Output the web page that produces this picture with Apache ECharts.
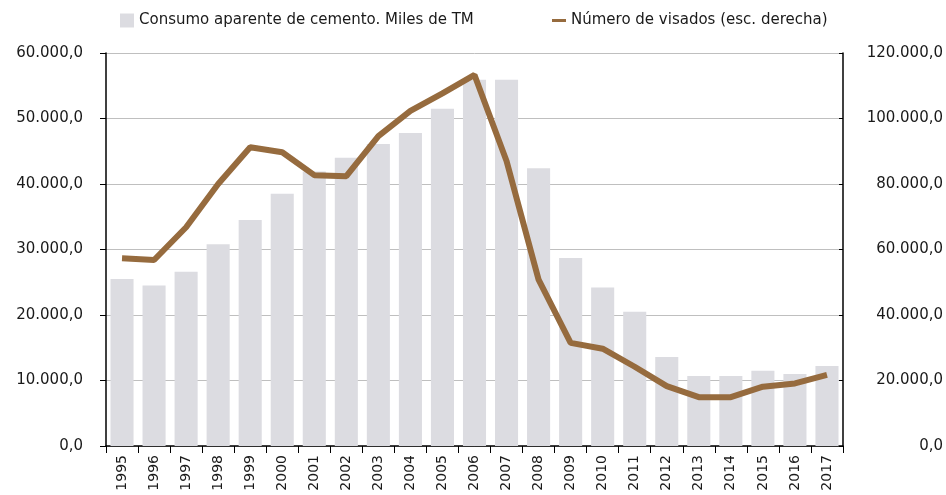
<!DOCTYPE html>
<html>
<head>
<meta charset="utf-8">
<script src="https://cdn.jsdelivr.net/npm/echarts@6/dist/echarts.min.js"></script>
<style>
  html, body { margin: 0; padding: 0; background: #fff; }
  #chart { width: 946px; height: 495px; }
</style>
</head>
<body>
<div id="chart"></div>
<script>
var years = ['1995', '1996', '1997', '1998', '1999', '2000', '2001', '2002', '2003', '2004', '2005', '2006',
    '2007', '2008', '2009', '2010', '2011', '2012', '2013', '2014', '2015', '2016', '2017'];
// consumo aparente de cemento, miles de TM (eje izq.)
var cemento = [25500, 24500, 26600, 30800, 34500, 38500, 41900, 44000, 46100, 47800, 51500, 55900,
    55900, 42400, 28700, 24200, 20500, 13600, 10700, 10700, 11500, 11000, 12200];
// numero de visados (eje dcho.)
var visados = [57300, 56800, 66800, 80000, 91200, 89700, 82700, 82400, 94600, 102300, 107700, 113300,
    87000, 50800, 31500, 29700, 24200, 18300, 14900, 14900, 18100, 19100, 21700];
var leftTicks = [0, 10000, 20000, 30000, 40000, 50000, 60000];
var rightTicks = [0, 20000, 40000, 60000, 80000, 100000, 120000];

var myChart = echarts.init(document.getElementById('chart'));

function fmt(v) {
    // 60000 -> 60.000,0
    var s = Math.round(v).toString().replace(/\B(?=(\d{3})+(?!\d))/g, '.');
    return s + ',0';
}

var font = 'DejaVu Sans';

var option = {
    animation: false,
    grid: { left: 106, right: 103, top: 53, bottom: 49 },
    legend: [{
        data: ['Consumo aparente de cemento. Miles de TM'],
        left: 115, top: 8,
        itemWidth: 14, itemHeight: 14, icon: 'rect', itemGap: 10,
        textStyle: { fontFamily: font, fontSize: 15, color: '#1a1a1a' }
    }, {
        data: ['Número de visados (esc. derecha)'],
        left: 547, top: 8,
        itemWidth: 14, itemHeight: 3, icon: 'rect',
        textStyle: { fontFamily: font, fontSize: 15, color: '#1a1a1a' }
    }],
    xAxis: {
        type: 'category',
        data: years,
        axisLine: { lineStyle: { color: '#000', width: 1.5 } },
        axisTick: { show: true, length: 7, lineStyle: { color: '#000' } },
        axisLabel: { rotate: 90, margin: 9, fontFamily: font, fontSize: 14, color: '#1a1a1a', interval: 0 }
    },
    yAxis: [{
        type: 'value',
        min: leftTicks[0], max: leftTicks[leftTicks.length - 1], interval: 10000,
        axisLine: { show: true, lineStyle: { color: '#000', width: 1.5 } },
        axisTick: { show: true, length: 6, lineStyle: { color: '#000' } },
        splitLine: { lineStyle: { color: '#bfbfbf', width: 1 } },
        axisLabel: { margin: 23, fontFamily: font, fontSize: 15, color: '#1a1a1a', formatter: fmt }
    }, {
        type: 'value',
        min: rightTicks[0], max: rightTicks[rightTicks.length - 1], interval: 20000,
        position: 'right',
        axisLine: { show: true, lineStyle: { color: '#000', width: 1.5 } },
        axisTick: { show: true, length: 4, inside: true, lineStyle: { color: '#000' } },
        splitLine: { show: false },
        axisLabel: { margin: 100, align: 'right', fontFamily: font, fontSize: 15, color: '#1a1a1a', formatter: fmt }
    }],
    series: [{
        name: 'Consumo aparente de cemento. Miles de TM',
        type: 'bar',
        data: cemento,
        barCategoryGap: '28%',
        itemStyle: { color: '#dcdce1' }
    }, {
        name: 'Número de visados (esc. derecha)',
        type: 'line',
        yAxisIndex: 1,
        data: visados,
        symbol: 'none',
        lineStyle: { color: '#966b3e', width: 6 },
        itemStyle: { color: '#966b3e' }
    }]
};

myChart.setOption(option);
</script>
</body>
</html>
